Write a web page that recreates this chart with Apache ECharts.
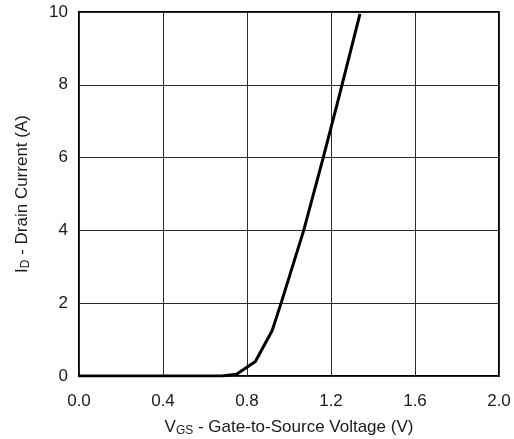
<!DOCTYPE html>
<html>
<head>
<meta charset="utf-8">
<script src="https://cdn.jsdelivr.net/npm/echarts@6/dist/echarts.min.js"></script>
<style>html,body{margin:0;padding:0;background:#fff;}#c{width:514px;height:439px;}</style>
</head>
<body>
<div id="c"></div>
<script>
// V_GS (V)
const vgs = [0.0, 0.30, 0.68, 0.75, 0.84, 0.92, 0.965, 1.07, 1.163, 1.235, 1.338];
// I_D (A)
const id  = [0.0, 0.0, 0.0, 0.05, 0.40, 1.25, 2.05, 4.0, 6.0, 7.6, 9.95];
const xTicks = ['0.0','0.4','0.8','1.2','1.6','2.0'];
const yTicks = ['0','2','4','6','8','10'];

const chart = echarts.init(document.getElementById('c'), null, {renderer:'canvas'});
const font = 'Liberation Sans, Arial, Helvetica, sans-serif';
chart.setOption({
  animation: false,
  backgroundColor: '#fff',
  grid: {left: 79, right: 15, top: 12, bottom: 63, show: true, borderColor: '#000', borderWidth: 2,
    backgroundColor: 'transparent', containLabel: false, outerBoundsMode: 'none'},
  xAxis: {
    type: 'value', min: 0, max: 2.0, interval: 0.4,
    axisLine: {show: false}, axisTick: {show: false},
    splitLine: {show: true, lineStyle: {color: '#2a2a2a', width: 1}},
    axisLabel: {margin: 17, fontSize: 17, color: '#1a1a1a', fontFamily: font,
      formatter: v => xTicks[Math.round(v / 0.4)]},
    name: '{m|V}{s|GS}{m| - Gate-to-Source Voltage (V)}',
    nameLocation: 'middle', nameGap: 42,
    nameTextStyle: {fontFamily: font, color: '#1a1a1a',
      rich: {m: {fontSize: 17, fontFamily: font, color: '#1a1a1a'},
             s: {fontSize: 12, fontFamily: font, color: '#1a1a1a', padding: [7, 0, 0, 0]}}}
  },
  yAxis: {
    type: 'value', min: 0, max: 10, interval: 2,
    axisLine: {show: false}, axisTick: {show: false},
    splitLine: {show: true, lineStyle: {color: '#2a2a2a', width: 1}},
    axisLabel: {margin: 11, fontSize: 17, color: '#1a1a1a', fontFamily: font,
      formatter: v => yTicks[Math.round(v / 2)]},
    name: '{m|I}{s|D}{m| - Drain Current (A)}',
    nameLocation: 'middle', nameGap: 47, nameRotate: 90,
    nameTextStyle: {fontFamily: font, color: '#1a1a1a',
      rich: {m: {fontSize: 17, fontFamily: font, color: '#1a1a1a'},
             s: {fontSize: 12, fontFamily: font, color: '#1a1a1a', padding: [7, 0, 0, 0]}}}
  },
  series: [{
    type: 'line', data: vgs.map((v, i) => [v, id[i]]),
    showSymbol: false, smooth: false,
    lineStyle: {color: '#000', width: 3}
  }]
});
</script>
</body>
</html>
